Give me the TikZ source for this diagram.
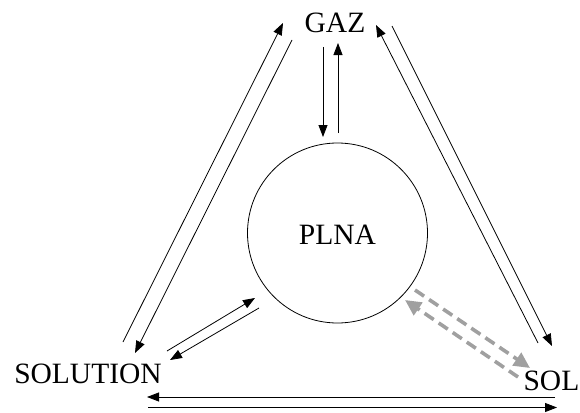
\documentclass[tikz,border=0pt]{standalone}
\usepackage{fontspec}
\setmainfont{Liberation Serif}
\usetikzlibrary{arrows.meta}
\begin{document}
\begin{tikzpicture}[x=1pt,y=-1pt,
  lbl/.style={font=\fontsize{29.5}{32}\selectfont, inner sep=0pt, anchor=base},
  arr/.style={line width=0.8pt, -{Triangle[length=12pt,width=9pt]}},
  garr/.style={line width=3.6pt, draw={rgb,255:red,160;green,160;blue,160}, dash pattern=on 11pt off 6pt,
     -{Triangle[length=16pt,width=15pt,fill={rgb,255:red,160;green,160;blue,160}]}}]
\useasboundingbox (0,0) rectangle (580,412);
% labels
\node[lbl] (gaz) at (335,33) {GAZ};
\node[lbl] (solution) at (88,383) {SOLUTION};
\node[lbl, anchor=base east] (sol) at (579.5,390) {SOL};
\node[draw, circle, line width=0.8pt, minimum size=180pt, inner sep=0pt] (plna) at (337.5,233) {};
\node[lbl] at (337.5,244) {PLNA};
% endpoints
\coordinate (g1a) at (323,47);  \coordinate (g1b) at (323,137);
\coordinate (g2a) at (338,133); \coordinate (g2b) at (338,43);
\coordinate (l1a) at (123,342); \coordinate (l1b) at (283,23);
\coordinate (l2a) at (292,40);  \coordinate (l2b) at (135,353);
\coordinate (r1a) at (538,343); \coordinate (r1b) at (376,25);
\coordinate (r2a) at (392,26);  \coordinate (r2b) at (552,346);
\coordinate (s1a) at (167,351); \coordinate (s1b) at (255,298);
\coordinate (s2a) at (259,308); \coordinate (s2b) at (170,360);
\coordinate (d1a) at (415,290); \coordinate (d1b) at (530,368);
\coordinate (d2a) at (518,377); \coordinate (d2b) at (405,300);
\coordinate (h1a) at (555,397); \coordinate (h1b) at (147,397);
\coordinate (h2a) at (148,407.5); \coordinate (h2b) at (557,407.5);
% connectors
\draw[arr] (g1a) -- (g1b);
\draw[arr] (g2a) -- (g2b);
\draw[arr] (l1a) -- (l1b);
\draw[arr] (l2a) -- (l2b);
\draw[arr] (r1a) -- (r1b);
\draw[arr] (r2a) -- (r2b);
\draw[arr] (s1a) -- (s1b);
\draw[arr] (s2a) -- (s2b);
\draw[arr] (h1a) -- (h1b);
\draw[arr] (h2a) -- (h2b);
\draw[garr] (d1a) -- (d1b);
\draw[garr] (d2a) -- (d2b);
\end{tikzpicture}
\end{document}
